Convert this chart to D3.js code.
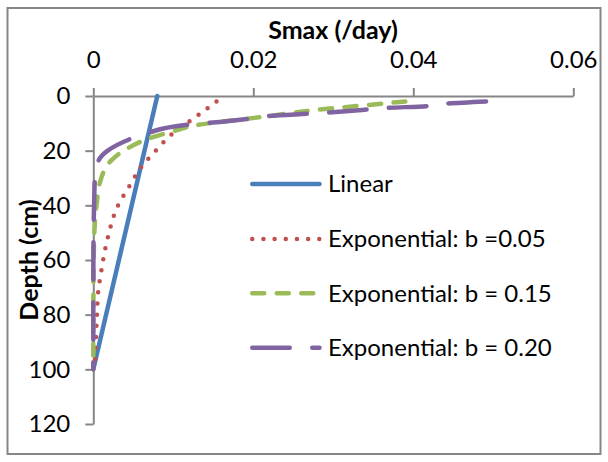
<!DOCTYPE html>
<html>
<head>
<meta charset="utf-8">
<script src="https://cdn.jsdelivr.net/npm/d3@7"></script>
<style>
  html, body { margin: 0; padding: 0; background: #fff; }
  svg { display: block; }
  text { font-family: Lato, "Open Sans", sans-serif; fill: #000; }
</style>
</head>
<body>
<svg id="chart" width="608" height="462"></svg>
<script>
// ---- data ----
const seriesNames = ["Linear", "Exponential: b =0.05", "Exponential: b = 0.15", "Exponential: b = 0.20"];
const linearDepth = [0, 100];
const linearSmax  = [0.008, 0];
const exp005Depth = [2, 7, 14, 20, 26, 33, 40, 52, 64, 72, 80, 88, 100];
const exp005Smax  = [0.0154, 0.0131, 0.0098, 0.0078, 0.0060, 0.0045, 0.0031, 0.0018, 0.0010, 0.0006, 0.00046, 0.00034, 0.0002];
const exp015Depth = [2, 3.4, 4.2, 5.2, 6.2, 7.4, 8.4, 10.7, 12.8, 15.6, 19.3, 24, 30, 40, 50, 60, 70, 80, 90, 100];
const exp015Smax  = [0.039, 0.034, 0.031, 0.0275, 0.0248, 0.0218, 0.019, 0.0128, 0.0101, 0.0069, 0.0042, 0.0021, 0.001, 0.0004, 0.00013, 0.00005, 0.00002, 0.00001, 0, 0];
const exp020Depth = [2, 2.8, 3.7, 4.4, 5.1, 6.3, 7.4, 8.4, 9.5, 10.5, 13.5, 16, 20, 24, 30, 40, 50, 60, 70, 80, 90, 100];
const exp020Smax  = [0.0491, 0.044, 0.0417, 0.0365, 0.0336, 0.028, 0.0215, 0.0192, 0.0158, 0.0118, 0.0068, 0.0044, 0.0018, 0.0006, 0.0002, 0.0001, 0.00003, 0.00001, 0, 0, 0, 0];
const smaxTicks  = [0, 0.02, 0.04, 0.06];
const depthTicks = [0, 20, 40, 60, 80, 100, 120];
const xTitle = "Smax (/day)";
const yTitle = "Depth (cm)";

// ---- styles ----
const colors = ["#4A7EBB", "#C0504D", "#9BBB59", "#8064A2"];
const dashes = [null, "0,11.17", "12,12.5", "37.5,22.5"];
const lw = 4.5;

const svg = d3.select("#chart");
// outer border
svg.append("rect").attr("x", 7.5).attr("y", 8).attr("width", 593).attr("height", 446)
  .attr("fill", "#fff").attr("stroke", "#868686").attr("stroke-width", 2);

const x = d3.scaleLinear().domain([0, 0.06]).range([93.3, 573.3]);
const y = d3.scaleLinear().domain([0, 120]).range([96, 424]);

const fmt = d => d === 0 ? "0" : d3.format(".2f")(d);

const xAxis = svg.append("g").attr("transform", `translate(0,${y(0)})`)
  .call(d3.axisTop(x).tickValues(smaxTicks).tickFormat(fmt).tickSize(8).tickSizeOuter(0).tickPadding(20));
const yAxis = svg.append("g").attr("transform", `translate(${x(0)},0)`)
  .call(d3.axisLeft(y).tickValues(depthTicks).tickSize(8).tickSizeOuter(0).tickPadding(15));
[xAxis, yAxis].forEach(g => {
  g.selectAll("path.domain").attr("stroke", "#868686").attr("stroke-width", 2);
  g.selectAll(".tick line").attr("stroke", "#868686").attr("stroke-width", 2);
  g.selectAll(".tick text").attr("font-family", "Lato, sans-serif").attr("font-size", 24).attr("fill", "#000");
});

// axis titles
svg.append("text").attr("x", 333).attr("y", 39).attr("text-anchor", "middle")
  .attr("font-weight", "bold").attr("font-size", 25).text(xTitle);
svg.append("text").attr("transform", `translate(38,${(y(0)+y(120))/2}) rotate(-90)`)
  .attr("text-anchor", "middle").attr("font-weight", "bold").attr("font-size", 25).text(yTitle);

// series
const series = [
  d3.zip(linearDepth, linearSmax),
  d3.zip(exp005Depth, exp005Smax),
  d3.zip(exp015Depth, exp015Smax),
  d3.zip(exp020Depth, exp020Smax)
];
const line = d3.line().x(d => x(d[1])).y(d => y(d[0])).curve(d3.curveMonotoneY);
series.forEach((s, i) => {
  svg.append("path").datum(s).attr("d", line)
    .attr("fill", "none").attr("stroke", colors[i]).attr("stroke-width", lw)
    .attr("stroke-linecap", "round").attr("stroke-linejoin", "round")
    .attr("stroke-dasharray", dashes[i]);
});

// legend
const legendY = [184, 239, 293.3, 347.7];
const leg = svg.append("g");
seriesNames.forEach((name, i) => {
  leg.append("line").attr("x1", 252.25).attr("x2", 319.5)
    .attr("y1", legendY[i]).attr("y2", legendY[i])
    .attr("stroke", colors[i]).attr("stroke-width", lw)
    .attr("stroke-linecap", "round").attr("stroke-dasharray", dashes[i]);
  leg.append("text").attr("x", 328).attr("y", legendY[i]).attr("dy", "0.35em")
    .attr("font-size", 24).text(name);
});
</script>
</body>
</html>
